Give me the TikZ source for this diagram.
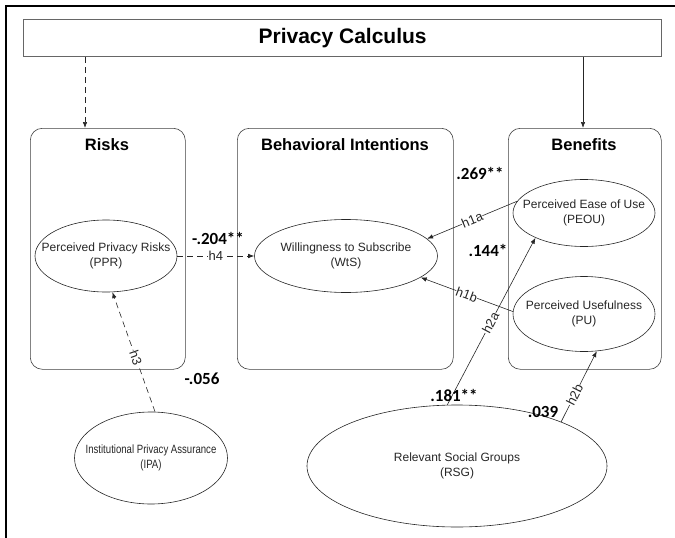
\documentclass[tikz,border=0pt]{standalone}
\usepackage{fontspec}
\setmainfont{Liberation Sans}
\newfontfamily\coeffont{Carlito}
\newfontfamily\narrowfont[FakeStretch=0.8]{Liberation Sans}
\usetikzlibrary{shapes.geometric,arrows.meta}
\begin{document}
\begin{tikzpicture}[x=1pt, y=-1pt,
  construct/.style={ellipse, draw=black!85, line width=0.6pt, inner xsep=-30pt, inner ysep=-4pt, align=center, text=black!85, font=\fontsize{12}{15.5}\selectfont},
  group/.style={draw=black!75, line width=0.6pt, rounded corners=12pt, anchor=north west},
  grouptitle/.style={font=\fontsize{16.5}{19}\selectfont\bfseries},
  coef/.style={font=\coeffont\fontsize{17}{19}\selectfont\bfseries},
  hyp/.style={fill=white, inner sep=0.3pt, sloped, text=black!85, font=\fontsize{13}{14}\selectfont},
  broken/.style={dash pattern=on 6pt off 4pt},
  link/.style={line width=0.6pt, draw=black!85, -{Latex[length=6pt,width=4.5pt]}}]
\useasboundingbox (0,0) rectangle (675,538);
\draw[line width=2.4pt] (6,538) -- (6,6) -- (675,6);
\node[draw=black!60, line width=1.3pt, anchor=north west, minimum width=638pt, minimum height=37pt, font=\fontsize{21}{24}\selectfont\bfseries] (calc) at (23,19) {Privacy Calculus};
\node[group, minimum width=155pt, minimum height=241pt] (risks) at (30,128) {};
\node[group, minimum width=216pt, minimum height=241pt] (intent) at (237,128) {};
\node[group, minimum width=153pt, minimum height=241pt] (benefits) at (508,128) {};
\node[grouptitle] (risksT) at (107,145) {Risks};
\node[grouptitle] (intentT) at (345,145) {Behavioral Intentions};
\node[grouptitle] (benefitsT) at (584,145) {Benefits};
\coordinate (leftdrop) at (85,0);
\coordinate (rightdrop) at (583,0);
\draw[link, broken] (calc.south -| leftdrop) -- (risks.north -| leftdrop);
\draw[link] (calc.south -| rightdrop) -- (benefits.north -| rightdrop);
\node[construct, minimum width=142pt, minimum height=72pt] (PPR) at (106,256) {Perceived Privacy Risks\\(PPR)};
\node[construct, minimum width=183pt, minimum height=73pt] (WtS) at (346,256) {Willingness to Subscribe\\(WtS)};
\node[construct, minimum width=142pt, minimum height=67pt] (PEOU) at (584,213) {Perceived Ease of Use\\(PEOU)};
\node[construct, minimum width=142pt, minimum height=75pt] (PU) at (584,314) {Perceived Usefulness\\(PU)};
\node[construct, minimum width=153pt, minimum height=92pt, font=\narrowfont\fontsize{12}{15.5}\selectfont] (IPA) at (151,458) {Institutional Privacy Assurance\\(IPA)};
\node[construct, minimum width=300pt, minimum height=122pt] (RSG) at (457,466) {Relevant Social Groups\\(RSG)};
\draw[link, broken] (PPR.east) -- (WtS.west) node[hyp, midway] {h4};
\draw[link] (PEOU.170) -- (WtS.12) node[hyp, midway] {h1a};
\draw[link] (PU.178) -- (WtS.-16) node[hyp, midway] {h1b};
\draw[link] (RSG.99) -- (PEOU.207) node[hyp, pos=0.49] {h2a};
\draw[link] (RSG.23.5) -- (PU.-71) node[hyp, pos=0.38] {h2b};
\draw[link, broken] (IPA.85) -- (PPR.-80) node[hyp, pos=0.45] {h3};
\node[coef] (c4) at (218,238) {-.204**};
\node[coef] (c1a) at (480,173) {.269**};
\node[coef] (c1b) at (488,250) {.144*};
\node[coef] (c3) at (202,379) {-.056};
\node[coef] (c2a) at (454,395) {.181**};
\node[coef] (c2b) at (543,412) {.039};
\end{tikzpicture}
\end{document}
